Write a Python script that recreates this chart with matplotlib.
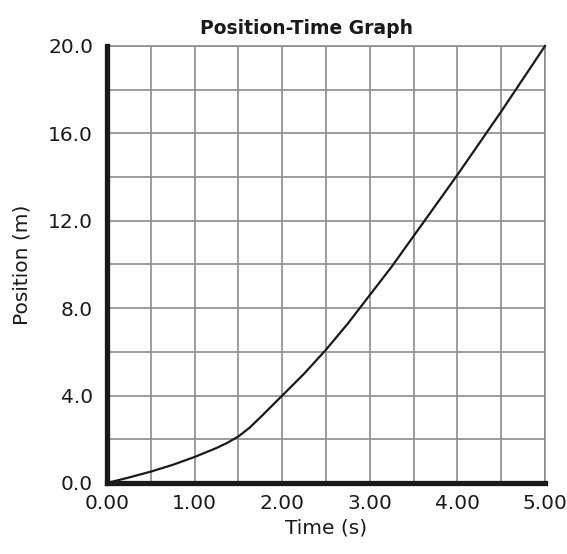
import matplotlib
matplotlib.use("Agg")
import matplotlib.pyplot as plt
import numpy as np

# data
time_s = [0.0, 0.25, 0.5, 0.75, 1.0, 1.25, 1.375, 1.5, 1.625, 1.75, 2.0, 2.25, 2.5,
          2.75, 3.0, 3.25, 3.5, 3.75, 4.0, 4.25, 4.5, 4.75, 5.0]
position_m = [0.0, 0.25, 0.52, 0.83, 1.19, 1.6, 1.84, 2.13, 2.52, 3.0, 4.0, 5.0, 6.1,
              7.3, 8.6, 9.9, 11.3, 12.7, 14.1, 15.55, 17.0, 18.5, 20.0]
x_labels = ["0.00", "1.00", "2.00", "3.00", "4.00", "5.00"]
y_labels = ["0.0", "4.0", "8.0", "12.0", "16.0", "20.0"]

plt.rcParams['font.family'] = ['DejaVu Sans']

fig = plt.figure(figsize=(5.67, 5.54), dpi=100)
ax = fig.add_axes([0.1887, 0.1282, 0.7725, 0.7888])

ax.plot(time_s, position_m, color="#1a1a1a", lw=1.6, zorder=5, clip_on=False,
        solid_joinstyle="round")

ax.set_xlim(0, 5)
ax.set_ylim(0, 20)
ax.set_xticks(np.arange(0, 5.01, 1.0))
ax.set_xticklabels(x_labels)
ax.set_yticks(np.arange(0, 20.01, 4.0))
ax.set_yticklabels(y_labels)
ax.set_xticks(np.arange(0.5, 5.01, 1.0), minor=True)
ax.set_yticks(np.arange(2, 20.01, 4.0), minor=True)
ax.grid(which="both", color="#8c8c8c", lw=1.2)
ax.set_axisbelow(True)
ax.tick_params(which="both", length=0, labelsize=14.5, colors="#1a1a1a")
ax.tick_params(axis="x", pad=8)
ax.tick_params(axis="y", pad=10)

for s in ["left", "bottom"]:
    ax.spines[s].set_linewidth(3.8)
    ax.spines[s].set_color("#1a1a1a")
    ax.spines[s].set_zorder(6)
for s in ["top", "right"]:
    ax.spines[s].set_linewidth(1.2)
    ax.spines[s].set_color("#8c8c8c")

ax.set_xlabel("Time (s)", fontsize=14.5, color="#1a1a1a", labelpad=4)
ax.set_ylabel("Position (m)", fontsize=14.5, color="#1a1a1a", labelpad=12)
fig.text(307 / 567, 1 - 28 / 554, "Position-Time Graph", fontsize=13.5, fontweight="bold",
         ha="center", va="center", color="#1a1a1a")

fig.savefig("out.png", dpi=100)
